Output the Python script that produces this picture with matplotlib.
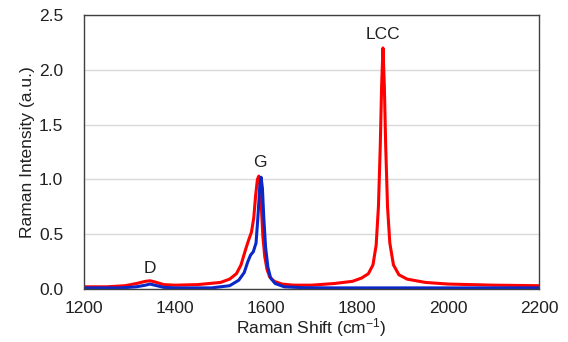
import numpy as np
import matplotlib.pyplot as plt

plt.rcParams['font.family'] = ['Liberation Sans', 'DejaVu Sans']
plt.rcParams['mathtext.default'] = 'regular'

# red spectrum (with LCC peak)
red_x = [1200, 1250, 1290, 1315, 1335, 1345, 1355, 1375, 1400, 1450, 1500, 1520, 1535,
         1545, 1555, 1562, 1568, 1573, 1577, 1581, 1584, 1587, 1590, 1593, 1597, 1602,
         1608, 1618, 1635, 1660, 1700, 1750, 1790, 1810, 1825, 1835, 1842, 1847, 1851,
         1854, 1857, 1860, 1863, 1867, 1872, 1880, 1892, 1910, 1950, 2000, 2100, 2200]
red_y = [0.02, 0.02, 0.03, 0.05, 0.07, 0.075, 0.065, 0.04, 0.035, 0.04, 0.06, 0.09, 0.14,
         0.22, 0.36, 0.45, 0.52, 0.65, 0.85, 1.0, 1.03, 0.95, 0.72, 0.48, 0.3, 0.18,
         0.11, 0.07, 0.045, 0.035, 0.035, 0.05, 0.07, 0.1, 0.14, 0.22, 0.4, 0.75, 1.3,
         1.85, 2.2, 1.85, 1.3, 0.75, 0.42, 0.22, 0.13, 0.09, 0.06, 0.045, 0.035, 0.03]

# blue spectrum
blue_x = [1200, 1280, 1315, 1335, 1345, 1355, 1375, 1400, 1480, 1520, 1540, 1552, 1560,
          1566, 1572, 1578, 1582, 1586, 1589, 1592, 1595, 1599, 1604, 1610, 1620, 1640,
          1680, 1750, 1850, 2000, 2200]
blue_y = [0.01, 0.01, 0.02, 0.035, 0.045, 0.035, 0.015, 0.01, 0.01, 0.03, 0.08, 0.15, 0.25,
          0.31, 0.34, 0.42, 0.65, 0.92, 1.02, 0.92, 0.65, 0.38, 0.2, 0.1, 0.05, 0.02,
          0.012, 0.01, 0.01, 0.01, 0.01]

labels = ['D', 'G', 'LCC']
label_x = [1345, 1586, 1857]
label_y = [0.19, 1.15, 2.32]

fig, ax = plt.subplots(figsize=(5.68, 3.42), dpi=100)
fig.subplots_adjust(left=0.148, right=0.949, bottom=0.155, top=0.956)

ax.plot(red_x, red_y, color='#ff0000', lw=2.2)
ax.plot(blue_x, blue_y, color='#0a28c8', lw=2.2)

for t, x, y in zip(labels, label_x, label_y):
    ax.text(x, y, t, ha='center', va='center', fontsize=12.5, color='#202020')

ax.set_xlim(1200, 2200)
ax.set_ylim(0, 2.5)
ax.set_xticks(np.arange(1200, 2201, 200))
ax.set_yticks(np.arange(0, 2.51, 0.5))
ax.yaxis.set_major_formatter(plt.FormatStrFormatter('%.1f'))
ax.grid(axis='y', color='#d9d9d9', lw=1)
ax.set_axisbelow(True)
ax.tick_params(length=0, labelsize=12.5, labelcolor='#202020')
ax.tick_params(axis='x', pad=9)
ax.tick_params(axis='y', pad=15)
for s in ax.spines.values():
    s.set_color('#404040')
    s.set_linewidth(1)

ax.set_xlabel('Raman Shift (cm$^{-1}$)', fontsize=12.5, labelpad=0, color='#202020')
ax.set_ylabel('Raman Intensity (a.u.)', fontsize=12.5, labelpad=3, color='#202020')

fig.savefig('out.png')
